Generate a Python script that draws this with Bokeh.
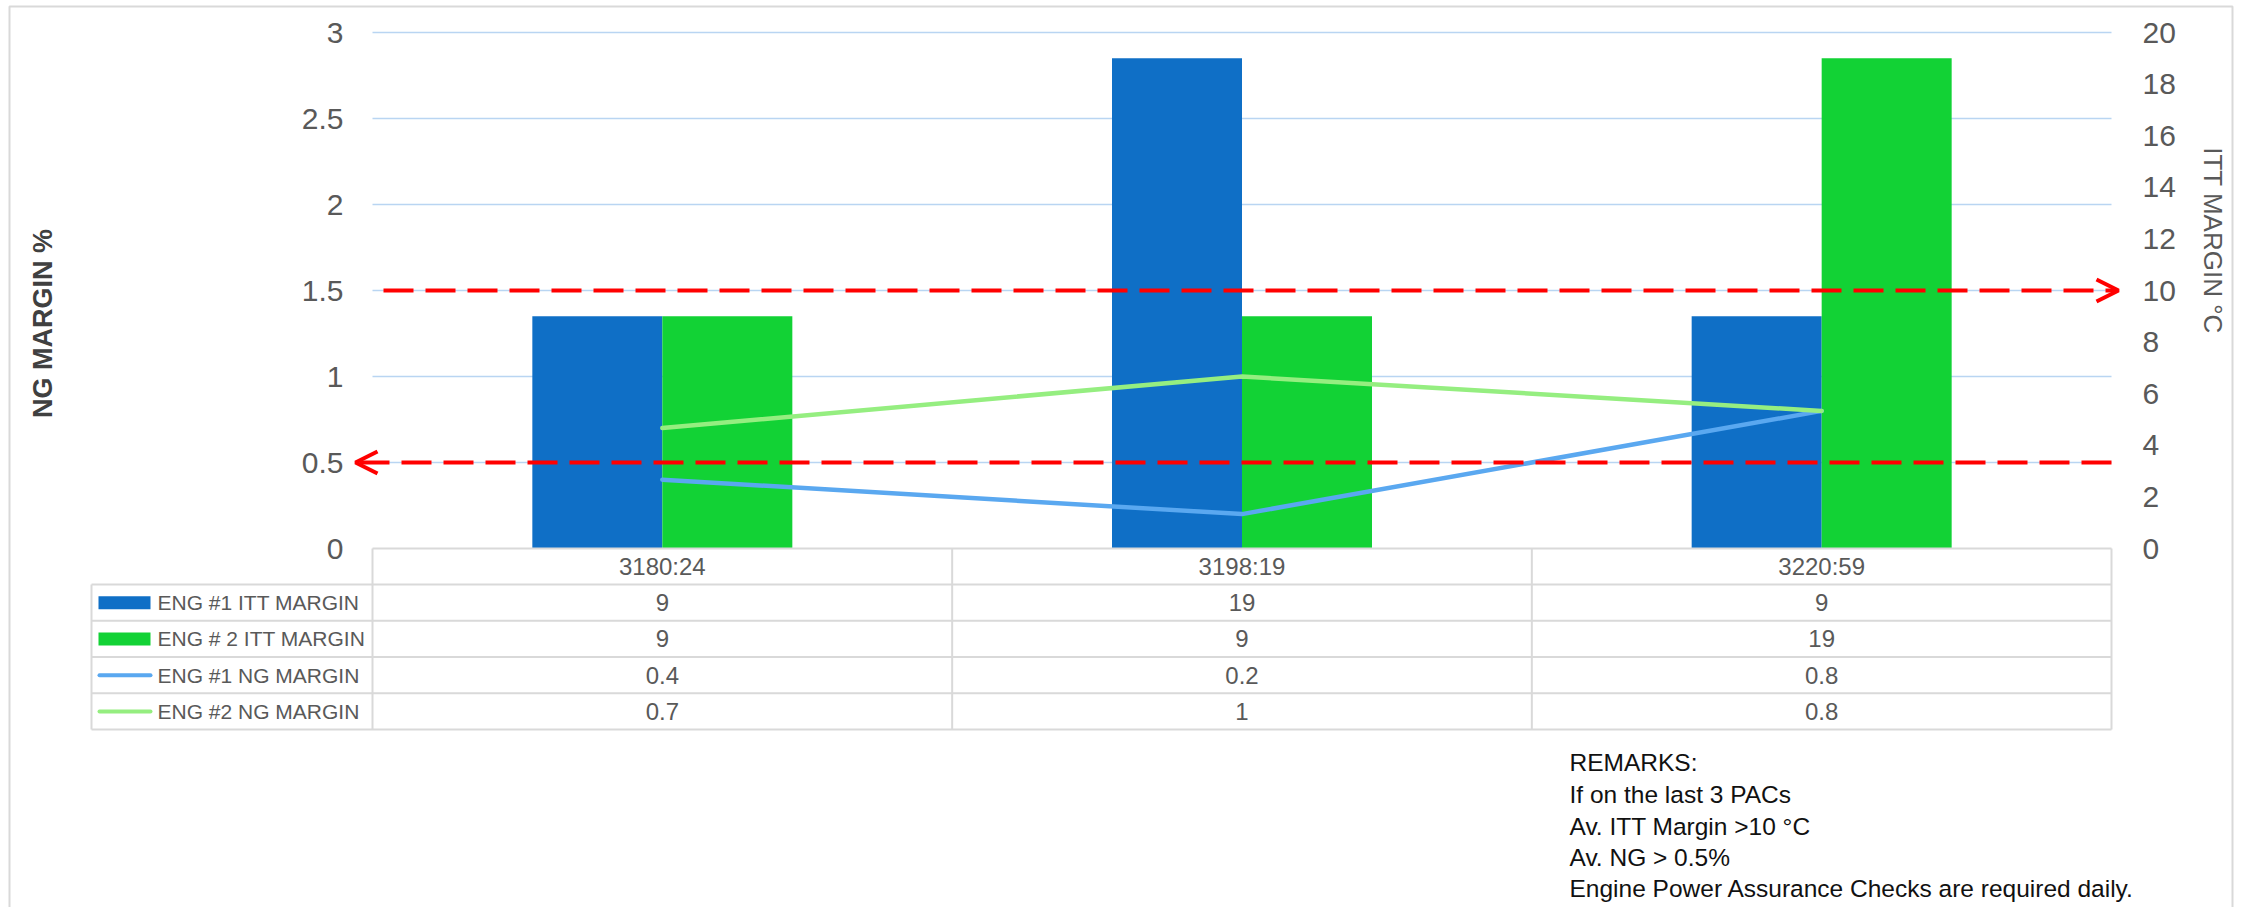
import numpy as np
from bokeh.plotting import figure
from bokeh.models import (Range1d, LinearAxis, FixedTicker, CustomJSTickFormatter,
                          Arrow, OpenHead)
from bokeh.core.properties import value
from bokeh.embed import file_html
from bokeh.resources import INLINE

# ---------------- data ----------------
categories = ["3180:24", "3198:19", "3220:59"]
series_names = ["ENG #1 ITT MARGIN", "ENG # 2 ITT MARGIN", "ENG #1 NG MARGIN", "ENG #2 NG MARGIN"]
eng1_itt = [9, 19, 9]
eng2_itt = [9, 9, 19]
eng1_ng = [0.4, 0.2, 0.8]
eng2_ng = [0.7, 1, 0.8]
ng_ticks = [0, 0.5, 1, 1.5, 2, 2.5, 3]
itt_ticks = [0, 2, 4, 6, 8, 10, 12, 14, 16, 18, 20]
itt_limit = 10
ng_limit = 0.5
ng_title = "NG MARGIN %"
itt_title = "ITT MARGIN °C"
remarks = ["REMARKS:", "If on the last 3 PACs", "Av. ITT Margin >10 °C",
           "Av. NG >  0.5%", "Engine Power Assurance Checks are required daily."]

# ---------------- layout (page pixels) ----------------
W, H = 2244, 907
OFF = 0
PLOT_L, PLOT_R = 372, 2111
ZERO_Y, TOP_Y = 548, 32
NG_MAX = 3.0
ITT_MAX = 20.0
unit = (PLOT_R - PLOT_L) / len(categories)
yscale = (ZERO_Y - TOP_Y) / NG_MAX

x0 = -(PLOT_L - OFF) / unit
x1 = len(categories) + (OFF + W - PLOT_R) / unit
y0 = -(OFF + H - ZERO_Y) / yscale
y1 = (ZERO_Y - OFF) / yscale
k = ITT_MAX / NG_MAX

FONT = value("Liberation Sans")
GREY = "#595959"
LINE_GREY = "#d9d9d9"
BLUE, GREEN = "#0f6fc6", "#12d235"
LBLUE, LGREEN = "#5aa8f0", "#95ee80"
RED = "#ff0000"

p = figure(width=W, height=H, x_range=Range1d(x0, x1), y_range=Range1d(y0, y1),
           output_backend="svg", toolbar_location=None,
           x_axis_location=None, y_axis_location=None, min_border=0,
           outline_line_color=None, background_fill_color="white",
           border_fill_color="white")
p.grid.visible = False
p.extra_y_ranges = {"itt": Range1d(y0 * k, y1 * k), "px": Range1d(OFF + H, OFF)}
p.extra_x_ranges = {"px": Range1d(OFF, OFF + W)}

xc = np.arange(len(categories)) + 0.5

# outer frame border
p.multi_line(xs=[[9, 9, 2232, 2232]], ys=[[960, 6, 6, 960]], x_range_name="px",
             y_range_name="px", line_color=LINE_GREY, line_width=2)

# gridlines
gl = ng_ticks[1:]
p.segment(x0=[0] * len(gl), x1=[len(categories)] * len(gl), y0=gl, y1=gl,
          line_color="#b9d5f2", line_width=1.5)

# bars
bw = 130 / unit
p.vbar(x=xc - bw / 2, width=bw, top=eng1_itt, bottom=0, y_range_name="itt",
       fill_color=BLUE, line_color=None)
p.vbar(x=xc + bw / 2, width=bw, top=eng2_itt, bottom=0, y_range_name="itt",
       fill_color=GREEN, line_color=None)

# NG lines
p.line(xc, eng1_ng, line_color=LBLUE, line_width=4.5, line_cap="round", line_join="round")
p.line(xc, eng2_ng, line_color=LGREEN, line_width=4.5, line_cap="round", line_join="round")

# threshold arrows
p.add_layout(Arrow(x_start=(383 - PLOT_L) / unit, y_start=itt_limit,
                   x_end=(2118 - PLOT_L) / unit, y_end=itt_limit, y_range_name="itt",
                   line_color=RED, line_width=4, line_dash="30 12",
                   end=OpenHead(size=22, line_color=RED, line_width=4)))
p.add_layout(Arrow(x_start=len(categories), y_start=ng_limit,
                   x_end=(355 - PLOT_L) / unit, y_end=ng_limit,
                   line_color=RED, line_width=4, line_dash="30 12",
                   end=OpenHead(size=22, line_color=RED, line_width=4)))

# axes
left = LinearAxis(ticker=FixedTicker(ticks=ng_ticks),
                  formatter=CustomJSTickFormatter(code="return String(tick)"),
                  fixed_location=0)
right = LinearAxis(y_range_name="itt", ticker=FixedTicker(ticks=itt_ticks),
                   fixed_location=len(categories))
for ax, so in ((left, 29), (right, 31)):
    ax.axis_line_color = None
    ax.major_tick_line_color = None
    ax.minor_tick_line_color = None
    ax.major_tick_in = 0
    ax.major_tick_out = 0
    ax.major_label_standoff = so
    ax.major_label_text_font = "Liberation Sans"
    ax.major_label_text_font_size = "30px"
    ax.major_label_text_color = GREY
p.add_layout(left, "left")
p.add_layout(right, "right")

# axis titles
p.text(x=[42], y=[323], text=[ng_title], angle=np.pi / 2, x_range_name="px",
       y_range_name="px", text_font=FONT, text_font_size=value("27px"),
       text_font_style="bold", text_color="#404040", text_align="center",
       text_baseline="middle")
p.text(x=[2212], y=[240], text=[itt_title], angle=-np.pi / 2, x_range_name="px",
       y_range_name="px", text_font=FONT, text_font_size=value("26px"),
       text_color=GREY, text_align="center", text_baseline="middle")

# ---------------- data table ----------------
rows = [548, 584, 620.25, 656.5, 692.75, 729]
LEG_L = 91
# horizontal rules
p.segment(x0=[PLOT_L] + [LEG_L] * 5, x1=[PLOT_R] * 6, y0=rows, y1=rows,
          x_range_name="px", y_range_name="px", line_color=LINE_GREY, line_width=2)
# vertical rules
vx = list(range(len(categories) + 1))
p.segment(x0=vx, x1=vx, y0=[rows[0]] * len(vx), y1=[rows[-1]] * len(vx),
          y_range_name="px", line_color=LINE_GREY, line_width=2)
p.segment(x0=[LEG_L], x1=[LEG_L], y0=[rows[1]], y1=[rows[-1]],
          x_range_name="px", y_range_name="px", line_color=LINE_GREY, line_width=2)

rc = [(rows[i] + rows[i + 1]) / 2 for i in range(len(rows) - 1)]
# header
p.text(x=xc, y=[rc[0]] * len(categories), text=categories, y_range_name="px",
       text_font=FONT, text_font_size=value("24px"), text_color=GREY,
       text_align="center", text_baseline="middle")
# values
table_vals = [eng1_itt, eng2_itt, eng1_ng, eng2_ng]
for r, vals in enumerate(table_vals):
    p.text(x=xc, y=[rc[r + 1]] * len(vals), text=[f"{v:g}" for v in vals],
           y_range_name="px", text_font=FONT, text_font_size=value("24px"),
           text_color=GREY, text_align="center", text_baseline="middle")
# legend column
p.text(x=[157] * 4, y=rc[1:], text=series_names, x_range_name="px", y_range_name="px",
       text_font=FONT, text_font_size=value("21px"), text_color=GREY,
       text_align="left", text_baseline="middle")
p.rect(x=[124, 124], y=rc[1:3], width=52, height=13, x_range_name="px",
       y_range_name="px", fill_color=[BLUE, GREEN], line_color=None)
p.segment(x0=[99, 99], x1=[150, 150], y0=rc[3:5], y1=rc[3:5], x_range_name="px",
          y_range_name="px", line_color=[LBLUE, LGREEN], line_width=4, line_cap="round")

# remarks
p.text(x=[1569] * len(remarks), y=[762, 794, 826, 857, 888], text=remarks,
       x_range_name="px", y_range_name="px", text_font=FONT,
       text_font_size=value("24.5px"), text_color="#111111", text_align="left",
       text_baseline="alphabetic")

open("out.html", "w").write(file_html(p, INLINE, "chart"))
